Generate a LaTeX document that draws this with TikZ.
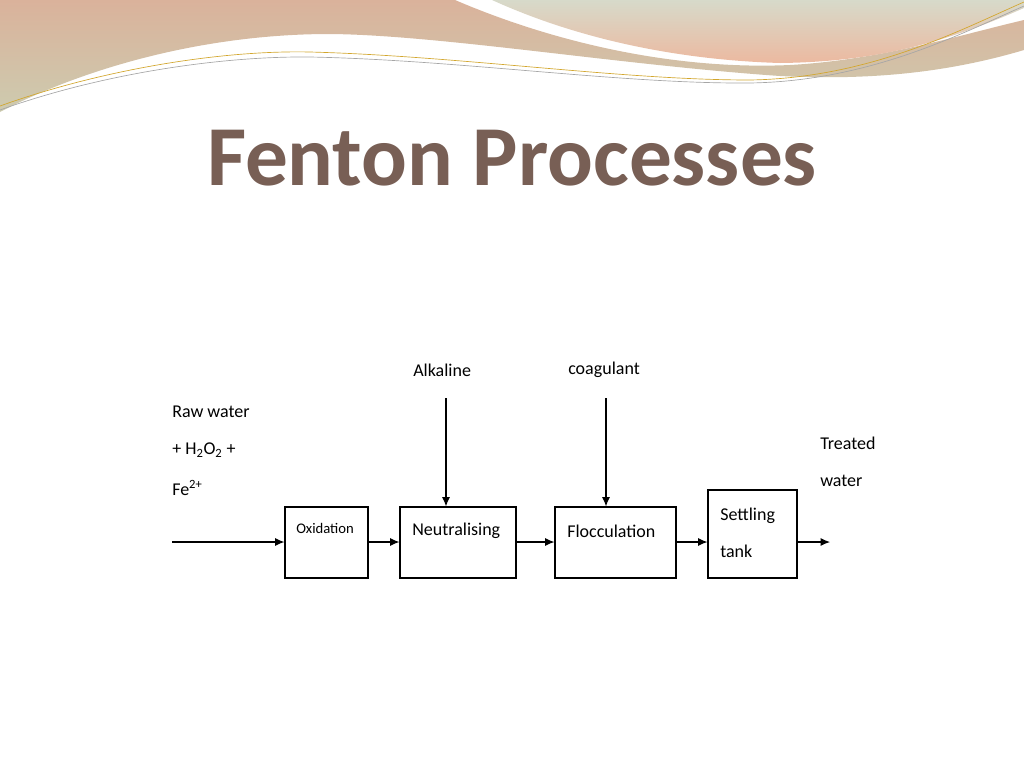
\documentclass[tikz,border=0pt]{standalone}
\usepackage{fontspec}
\setmainfont{Carlito}
\usetikzlibrary{arrows.meta}
\definecolor{titlec}{RGB}{120,95,85}
\definecolor{peach}{RGB}{218,178,155}
\definecolor{sage}{RGB}{205,203,175}
\definecolor{greyg}{RGB}{215,218,202}
\definecolor{salmon}{RGB}{236,185,160}
\tikzset{blk/.style={draw,line width=0.8pt,inner sep=0pt},
 lbl/.style={font=\fontsize{13.5}{16}\selectfont,anchor=west,inner sep=0pt},
 flow/.style={line width=0.8pt,-{Latex[length=7pt,width=6pt]}}}
\begin{document}
\begin{tikzpicture}[x=0.75pt,y=-0.75pt]
\useasboundingbox (0,0) rectangle (1024,768);
% banner
\shade[top color=peach,bottom color=sage] (0,0) -- (455,0) .. controls (560,45) and (680,70) .. (790,65) .. controls (880,60) and (960,35) .. (1024,20) -- (1024,50) .. controls (940,75) and (860,80) .. (780,76) .. controls (620,65) and (440,35) .. (330,34) .. controls (200,34) and (80,70) .. (0,112) -- cycle;
\shade[top color=greyg,bottom color=salmon] (492,0) -- (1024,0) -- (1024,8) .. controls (940,45) and (870,62) .. (780,63) .. controls (680,60) and (580,40) .. (492,0) -- cycle;
\draw[color=brown!70!yellow,line width=0.5pt] (0,106) .. controls (100,70) and (220,50) .. (310,52) .. controls (460,56) and (620,80) .. (750,80) .. controls (870,78) and (960,30) .. (1024,2);
\draw[color=gray!70,line width=0.5pt] (0,110) .. controls (100,74) and (220,56) .. (310,57) .. controls (460,60) and (620,84) .. (750,83) .. controls (870,81) and (960,34) .. (1024,6);
% title
\node[font=\bfseries\fontsize{64}{70}\selectfont,text=titlec] (title) at (512,158) {Fenton Processes};
% boxes
\node[blk,minimum width=83*0.75pt,minimum height=71*0.75pt] (ox) at (326.5,542.5) {};
\node[blk,minimum width=116*0.75pt,minimum height=71*0.75pt] (ne) at (458,542.5) {};
\node[blk,minimum width=121*0.75pt,minimum height=71*0.75pt] (fl) at (615.5,542.5) {};
\node[blk,minimum width=89*0.75pt,minimum height=88*0.75pt] (st) at (752.5,534) {};
\node[lbl,font=\fontsize{11}{13}\selectfont] (oxt) at (296,528) {Oxidation};
\node[lbl] (net) at (412,531) {Neutralising};
\node[lbl] (flt) at (567,531) {Flocculation};
\node[lbl] (st1) at (720,516) {Settling};
\node[lbl] (st2) at (720,551) {tank};
% inputs
\node[lbl] (rw1) at (172,412) {Raw water};
\node[lbl] (rw2) at (172,450) {+ H\textsubscript{2}O\textsubscript{2} +};
\node[lbl] (rw3) at (172,488) {Fe\textsuperscript{2+}};
\node[lbl] (tw1) at (820,443) {Treated};
\node[lbl] (tw2) at (820,481) {water};
\node[lbl] (alk) at (413,370) {Alkaline};
\node[lbl] (coa) at (568,370) {coagulant};
\coordinate (in) at (172,542);
\coordinate (out) at (830,542);
\coordinate (a1) at (446,398);
\coordinate (c1) at (606,398);
\draw[flow] (in) -- (ox.west|-in);
\draw[flow] (ox.east|-in) -- (ne.west|-in);
\draw[flow] (ne.east|-in) -- (fl.west|-in);
\draw[flow] (fl.east|-in) -- (st.west|-in);
\draw[flow] (st.east|-in) -- (out);
\draw[flow] (a1) -- (a1|-ne.north);
\draw[flow] (c1) -- (c1|-fl.north);
\end{tikzpicture}
\end{document}
